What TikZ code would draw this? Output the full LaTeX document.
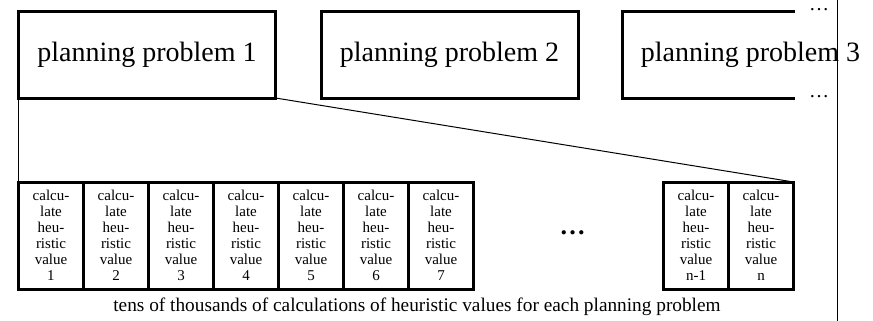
\documentclass[tikz,border=0pt]{standalone}
\usepackage{fontspec}
\setmainfont{Liberation Serif}
\usetikzlibrary{positioning}

\begin{document}
\begin{tikzpicture}[x=1pt, y=-1pt,
    problem/.style={line width=3pt, minimum width=257pt, minimum height=86pt,
      inner sep=0pt, outer sep=0pt, anchor=north west,
      font=\fontsize{28}{30}\selectfont},
    calcbox/.style={draw, line width=3pt, minimum width=65pt, minimum height=107pt,
      inner sep=0pt, outer sep=0pt, align=center,
      font=\fontsize{15}{16}\selectfont},
    more/.style={anchor=base west, inner sep=0pt, text height=3pt, text depth=0pt,
      font=\fontsize{20}{20}\selectfont},
    link/.style={line width=1pt}]
  \useasboundingbox (0,0) rectangle (873,321);

  % Planning problems
  \node[problem, draw] (pp1) at (18.5,12) {planning problem 1};
  \node[problem, draw] (pp2) at (321,12) {planning problem 2};
  \node[problem] (pp3) at (622,12) {planning problem 3};
  \draw[line width=3pt] ([xshift=173pt]pp3.north west) -- (pp3.north west)
    -- (pp3.south west) -- ([xshift=173pt]pp3.south west);
  \node[more] (moretop) at (809,10.5) {\ldots};
  \node[more] (morebot) at (809,98) {\ldots};

  % Page edge
  \draw[link] (837,0) -- (837,321);

  % Heuristic calculations
  \node[calcbox, anchor=north west] (calc1) at (18.5,182)
    {calcu-\\late\\heu-\\ristic\\value\\1};
  \node[calcbox, right=0pt of calc1] (calc2) {calcu-\\late\\heu-\\ristic\\value\\2};
  \node[calcbox, right=0pt of calc2] (calc3) {calcu-\\late\\heu-\\ristic\\value\\3};
  \node[calcbox, right=0pt of calc3] (calc4) {calcu-\\late\\heu-\\ristic\\value\\4};
  \node[calcbox, right=0pt of calc4] (calc5) {calcu-\\late\\heu-\\ristic\\value\\5};
  \node[calcbox, right=0pt of calc5] (calc6) {calcu-\\late\\heu-\\ristic\\value\\6};
  \node[calcbox, right=0pt of calc6] (calc7) {calcu-\\late\\heu-\\ristic\\value\\7};
  \node[calcbox, anchor=north west] (calcm) at (663.5,182)
    {calcu-\\late\\heu-\\ristic\\value\\n-1};
  \node[calcbox, right=0pt of calcm] (calcn) {calcu-\\late\\heu-\\ristic\\value\\n};
  \node[anchor=base, inner sep=0pt, font=\bfseries\fontsize{26}{26}\selectfont]
    (gap) at (572.5,234) {\ldots};

  % Zoom lines
  \draw[link] (pp1.south west) -- (calc1.north west);
  \draw[link] (pp1.south east) -- (calcn.north east);

  % Caption
  \node[font=\fontsize{19.3}{20}\selectfont] (caption) at (417,307)
    {tens of thousands of calculations of heuristic values for each planning problem};

\end{tikzpicture}
\end{document}
